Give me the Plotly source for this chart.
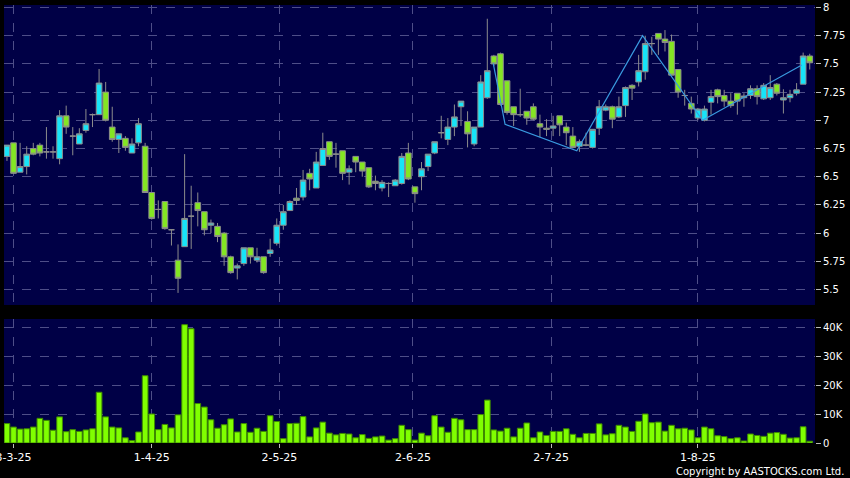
import plotly.graph_objects as go

# ---- data, one entry per trading day ----
opens = [6.68, 6.80, 6.54, 6.59, 6.75, 6.78, 6.72, 6.72, 6.66, 7.04,
         6.86, 6.79, 6.91, 7.05, 7.05, 7.25, 6.94, 6.83, 6.84, 6.71,
         6.80, 6.77, 6.36, 6.21, 6.28, 6.03, 5.76, 5.88, 6.15, 6.27,
         6.19, 6.07, 6.06, 6.00, 5.79, 5.69, 5.73, 5.87, 5.76, 5.79,
         5.82, 5.91, 6.07, 6.20, 6.31, 6.32, 6.53, 6.40, 6.60, 6.81,
         6.70, 6.73, 6.54, 6.68, 6.63, 6.58, 6.46, 6.40, 6.44, 6.42,
         6.44, 6.71, 6.41, 6.50, 6.59, 6.71, 6.89, 6.83, 6.94, 7.12,
         6.99, 6.79, 6.94, 7.20, 7.57, 7.59, 7.35, 7.12, 7.05, 7.08,
         7.12, 6.97, 6.93, 6.93, 7.04, 6.94, 6.86, 6.77, 6.78, 6.76,
         6.93, 7.09, 7.12, 7.03, 7.13, 7.31, 7.34, 7.43, 7.68, 7.77,
         7.72, 7.70, 7.45, 7.22, 7.15, 7.02, 7.00, 7.16, 7.27, 7.22,
         7.17, 7.24, 7.20, 7.22, 7.28, 7.19, 7.20, 7.32, 7.18, 7.20,
         7.24, 7.32, 7.57]
highs = [6.78, 6.80, 6.80, 6.77, 6.80, 6.80, 6.94, 6.77, 7.09, 7.13,
         6.94, 6.93, 7.10, 7.06, 7.455, 7.34, 7.12, 6.88, 6.86, 6.84,
         7.02, 6.80, 6.36, 6.29, 6.28, 6.03, 5.90, 6.70, 6.42, 6.36,
         6.19, 6.12, 6.09, 6.01, 5.80, 5.73, 5.87, 5.87, 5.87, 5.79,
         5.95, 6.13, 6.25, 6.29, 6.40, 6.56, 6.57, 6.72, 6.89, 6.81,
         6.80, 6.73, 6.60, 6.68, 6.63, 6.58, 6.51, 6.47, 6.45, 6.48,
         6.71, 6.80, 6.41, 6.63, 6.70, 6.81, 7.04, 7.02, 7.14, 7.17,
         7.08, 6.94, 7.40, 7.90, 7.58, 7.60, 7.35, 7.12, 7.28, 7.08,
         7.15, 7.05, 7.01, 7.04, 7.04, 6.98, 6.94, 6.83, 6.89, 6.92,
         7.18, 7.14, 7.13, 7.21, 7.30, 7.32, 7.58, 7.75, 7.74, 7.77,
         7.80, 7.76, 7.45, 7.27, 7.21, 7.11, 7.13, 7.27, 7.28, 7.27,
         7.24, 7.24, 7.24, 7.31, 7.31, 7.33, 7.40, 7.33, 7.275, 7.27,
         7.33, 7.60, 7.59]
lows = [6.64, 6.53, 6.54, 6.52, 6.69, 6.68, 6.66, 6.66, 6.61, 6.88,
        6.69, 6.79, 6.89, 6.94, 7.05, 6.99, 6.81, 6.71, 6.73, 6.71,
        6.77, 6.36, 6.12, 6.13, 6.03, 5.89, 5.47, 5.88, 5.86, 6.06,
        5.98, 6.00, 5.92, 5.71, 5.64, 5.59, 5.71, 5.73, 5.74, 5.64,
        5.79, 5.89, 6.03, 6.20, 6.25, 6.29, 6.38, 6.40, 6.60, 6.65,
        6.58, 6.47, 6.43, 6.54, 6.50, 6.40, 6.38, 6.37, 6.32, 6.42,
        6.43, 6.47, 6.27, 6.38, 6.55, 6.70, 6.84, 6.78, 6.86, 6.95,
        6.76, 6.77, 6.94, 7.19, 7.48, 7.13, 7.05, 6.95, 7.03, 6.96,
        7.00, 6.85, 6.86, 6.86, 6.86, 6.78, 6.75, 6.72, 6.77, 6.75,
        6.87, 7.08, 6.93, 7.02, 7.03, 7.18, 7.30, 7.36, 7.58, 7.58,
        7.61, 7.40, 7.20, 7.13, 7.06, 7.00, 6.99, 7.05, 7.15, 7.12,
        7.11, 7.05, 7.12, 7.19, 7.14, 7.18, 7.18, 7.22, 7.06, 7.16,
        7.22, 7.32, 7.45]
closes = [6.78, 6.53, 6.59, 6.70, 6.70, 6.71, 6.72, 6.72, 7.04, 6.94,
          6.86, 6.88, 6.97, 7.05, 7.33, 7.00, 6.83, 6.88, 6.76, 6.79,
          6.97, 6.36, 6.13, 6.21, 6.04, 6.03, 5.60, 6.13, 6.15, 6.20,
          6.03, 6.09, 5.97, 5.79, 5.65, 5.71, 5.87, 5.79, 5.79, 5.65,
          5.85, 6.07, 6.19, 6.28, 6.29, 6.47, 6.48, 6.63, 6.75, 6.68,
          6.70, 6.53, 6.57, 6.63, 6.55, 6.41, 6.44, 6.45, 6.44, 6.47,
          6.68, 6.48, 6.35, 6.57, 6.70, 6.81, 6.89, 6.94, 7.03, 7.17,
          6.88, 6.94, 7.34, 7.44, 7.50, 7.14, 7.07, 7.05, 7.05, 7.02,
          7.01, 6.94, 6.92, 6.95, 6.96, 6.89, 6.76, 6.81, 6.78, 6.92,
          7.12, 7.12, 7.01, 7.12, 7.29, 7.285, 7.44, 7.68, 7.68, 7.72,
          7.69, 7.40, 7.25, 7.22, 7.10, 7.10, 7.10, 7.21, 7.21, 7.17,
          7.13, 7.17, 7.215, 7.28, 7.21, 7.31, 7.29, 7.24, 7.20, 7.23,
          7.27, 7.57, 7.51]
volumes = [6700, 5500, 4800, 4900, 5500, 8500, 7800, 4400, 9000, 3900,
           4600, 4000, 4500, 4900, 17500, 9000, 5500, 5200, 1800, 800,
           3800, 23200, 10000, 4600, 6400, 5200, 9700, 40800, 39400, 13600,
           12400, 8000, 5100, 6300, 8300, 3800, 6700, 3700, 5100, 4000,
           9400, 7400, 1500, 6700, 6800, 9100, 2100, 5200, 7200, 3400,
           2800, 3300, 3100, 1800, 2900, 1600, 2100, 2400, 1000, 1500,
           6100, 4600, 1000, 3400, 2500, 9400, 5500, 3700, 8500, 8000,
           4600, 4600, 9800, 14800, 4500, 4100, 5100, 2100, 5100, 6900,
           1800, 3800, 2600, 4000, 4000, 4900, 3000, 1800, 3300, 3300,
           6600, 2800, 3200, 6100, 5500, 4000, 7500, 10000, 7000, 7200,
           4100, 6100, 4900, 5100, 4500, 1800, 5500, 4900, 2500, 2200,
           1500, 1800, 700, 3100, 2600, 2300, 3400, 3600, 3000, 1700,
           1800, 5600, 600]

# overlay line (bar index, price)
zigzag_x = [73.9, 75.7, 86.6, 96.6, 105.7, 120.8]
zigzag_y = [7.505, 6.965, 6.73, 7.75, 7.00, 7.49]

# month tick labels and the bar index they sit on
tick_labels = ["3-3-25", "1-4-25", "2-5-25", "2-6-25", "2-7-25", "1-8-25"]
tick_index = [1, 22, 41.4, 61.7, 82.7, 105]

price_ticks = [5.5, 5.75, 6, 6.25, 6.5, 6.75, 7, 7.25, 7.5, 7.75, 8]
price_tick_text = ["5.5", "5.75", "6", "6.25", "6.5", "6.75", "7", "7.25", "7.5", "7.75", "8"]
vol_ticks = [0, 10000, 20000, 30000, 40000]
vol_tick_text = ["0", "10K", "20K", "30K", "40K"]

idx = list(range(len(opens)))

CYAN = "#17E4F8"
GREEN = "#84E623"
VOLGREEN = "#80FF00"
GRID = "#4E4E88"
FONT = "DejaVu Sans"

fig = go.Figure()
fig.add_trace(go.Candlestick(
    x=idx, open=opens, high=highs, low=lows, close=closes,
    increasing=dict(fillcolor=CYAN, line=dict(color="#8C8C8C", width=1)),
    decreasing=dict(fillcolor=GREEN, line=dict(color="#8C8C8C", width=1)),
    whiskerwidth=0, xaxis="x", yaxis="y", showlegend=False, hoverinfo="skip"))
fig.add_trace(go.Scatter(
    x=zigzag_x, y=zigzag_y, mode="lines",
    line=dict(color="#3A9BE0", width=1.2),
    xaxis="x", yaxis="y", showlegend=False, hoverinfo="skip"))
fig.add_trace(go.Bar(
    x=idx, y=volumes, width=0.86,
    marker=dict(color=VOLGREEN, line=dict(color="#3E8A00", width=1)),
    xaxis="x2", yaxis="y2", showlegend=False, hoverinfo="skip"))

xr = [-0.45, 122.8]
common_x = dict(range=xr, tickvals=tick_index, ticktext=tick_labels,
                showgrid=True, gridcolor=GRID, griddash="dash", gridwidth=1,
                zeroline=False, showline=False, ticklabeloverflow="allow",
                automargin=False)
common_y = dict(side="right", showgrid=True, gridcolor=GRID, griddash="dash",
                gridwidth=1, zeroline=False, showline=False, ticks="outside",
                ticklen=5, tickcolor="#BBBBBB", tickwidth=1,
                ticklabeloverflow="allow", automargin=False,
                tickfont=dict(family=FONT, size=10, color="#FFFFFF"))

fig.update_layout(
    width=850, height=478, autosize=False,
    margin=dict(l=4, r=35, t=5, b=35),
    paper_bgcolor="#000000", plot_bgcolor="#000046",
    boxgap=0.14, boxgroupgap=0, bargap=0.1, showlegend=False,
    xaxis=dict(**common_x, domain=[0, 1], anchor="y", showticklabels=False,
               ticks="", rangeslider=dict(visible=False)),
    xaxis2=dict(**common_x, domain=[0, 1], anchor="y2", matches="x",
                showticklabels=True, ticks="outside", ticklen=4,
                tickcolor="#BBBBBB",
                tickfont=dict(family=FONT, size=11, color="#FFFFFF"),
                rangeslider=dict(visible=False)),
    yaxis=dict(**common_y, domain=[0.3151, 1], range=[5.363, 8.022],
               tickvals=price_ticks, ticktext=price_tick_text),
    yaxis2=dict(**common_y, domain=[0, 0.2831], range=[0, 42760],
                tickvals=vol_ticks, ticktext=vol_tick_text),
    annotations=[dict(text="Copyright by AASTOCKS.com Ltd.", xref="paper",
                      yref="paper", x=1.038, y=-0.064, xanchor="right",
                      yanchor="middle", showarrow=False,
                      font=dict(family=FONT, size=10, color="#FFFFFF"))],
)

fig.write_html(
    "out.html",
    config={"displayModeBar": False},
    post_script="document.body.style.margin='0';document.body.style.padding='0';"
                "document.body.style.background='#000';",
)
